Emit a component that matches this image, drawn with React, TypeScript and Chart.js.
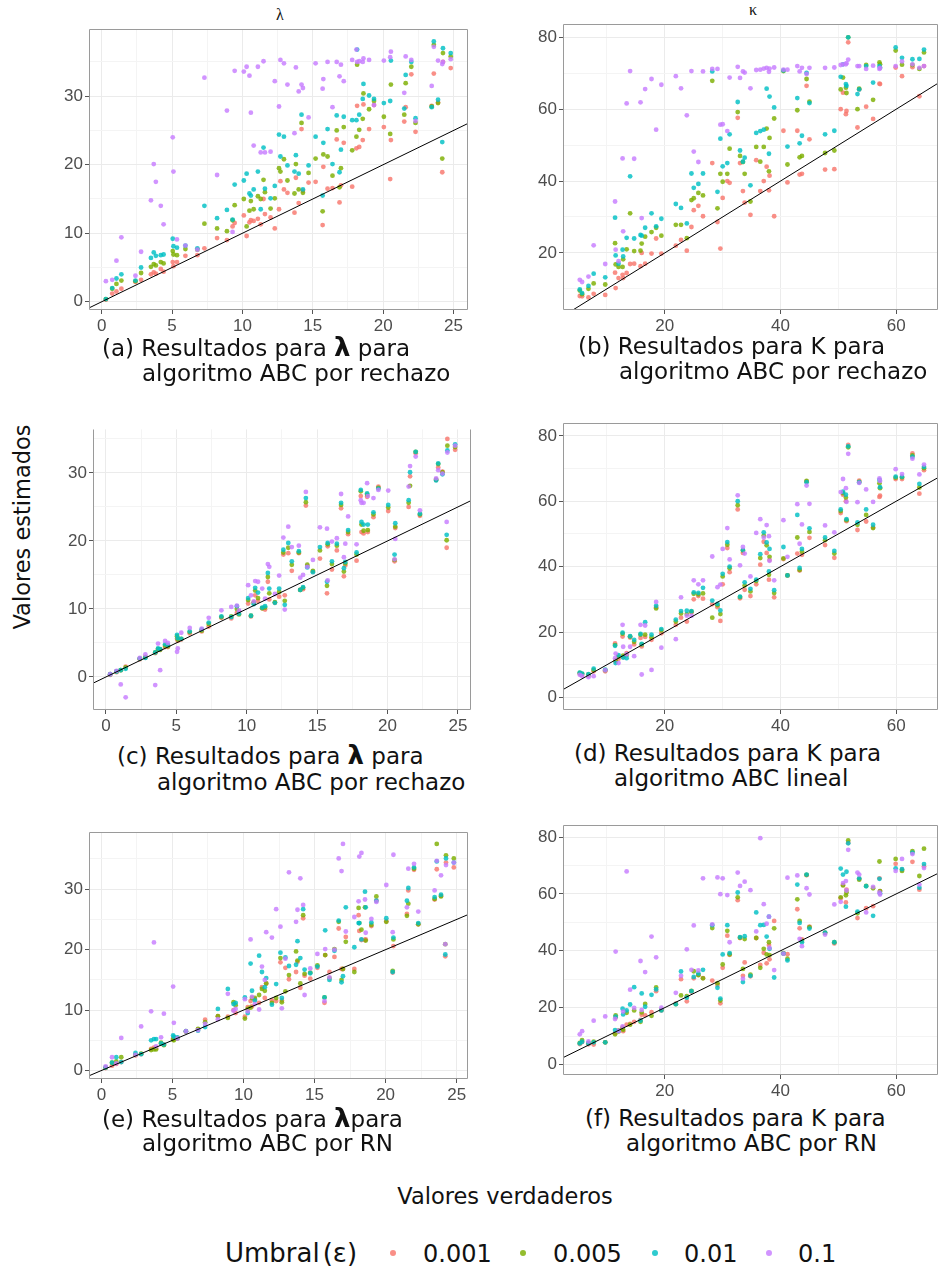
import React, { useEffect, useRef } from 'react';
import { Chart, registerables } from 'chart.js';

Chart.register(...registerables);

// ---------------- DATA ----------------
const SERIES = ['0.001', '0.005', '0.01', '0.1'];
const COLORS = ['#F8766D', '#7CAE00', '#00BFC4', '#C77CFF'];
const FILLS = ['rgba(248,118,109,0.82)', 'rgba(124,174,0,0.82)', 'rgba(0,191,196,0.82)', 'rgba(199,124,255,0.82)'];

const LAMBDA_X_TICKS = [0, 2.5, 5, 7.5, 10, 12.5, 15, 17.5, 20, 22.5, 25];
const LAMBDA_X_LABELS = [0, 5, 10, 15, 20, 25];
const LAMBDA_Y_TICKS = [0, 5, 10, 15, 20, 25, 30, 35];
const LAMBDA_Y_LABELS = [0, 10, 20, 30];
const KAPPA_X_TICKS = [10, 20, 30, 40, 50, 60];
const KAPPA_X_LABELS = [20, 40, 60];
const KAPPA_Y_TICKS = [0, 10, 20, 30, 40, 50, 60, 70, 80];
const KAPPA_Y_LABELS = [0, 20, 40, 60, 80];

// true lambda values
const X_LAMBDA = [0.3, 0.75, 1.05, 1.4, 2.4, 2.8, 3.5, 3.7, 3.85, 4.2, 4.4, 5.05, 5.1, 5.35, 5.95, 6.8, 7.3, 8.2, 8.9, 9.3, 9.45, 10.1, 10.3, 10.5, 10.6, 10.8, 11.1, 11.3, 11.5, 11.6, 12.0, 12.3, 12.6, 12.7, 12.95, 13.2, 13.7, 13.8, 14.0, 14.2, 14.3, 14.7, 15.2, 15.7, 15.75, 16.05, 16.4, 16.7, 16.9, 17.0, 17.2, 17.8, 18.1, 18.15, 18.3, 18.55, 18.6, 19.0, 19.35, 20.05, 20.5, 20.55, 21.5, 21.6, 22.0, 22.3, 23.45, 23.6, 23.9, 24.2, 24.25, 24.8];

// (a) lambda, rechazo
const A_001 = [0.3, 1.2, 1.5, 1.9, 2.9, 3.2, 4.0, 4.3, 4.1, 4.8, 4.4, 5.8, 5.2, 5.8, 6.7, 6.8, 7.8, 9.3, 9.0, 11.0, 11.5, 12.6, 9.6, 11.6, 11.9, 11.8, 12.1, 11.3, 15.0, 12.8, 12.3, 10.7, 13.5, 17.6, 16.4, 15.9, 13.0, 18.1, 14.4, 25.2, 16.2, 17.4, 17.5, 11.2, 19.7, 16.5, 16.6, 23.7, 14.5, 17.0, 23.2, 16.8, 22.4, 28.6, 22.6, 23.6, 28.8, 25.2, 28.7, 25.5, 17.9, 23.6, 26.3, 28.4, 33.2, 24.8, 28.6, 33.3, 29.1, 18.9, 35.0, 34.1];
const A_005 = [0.4, 1.9, 2.6, 3.1, 3.0, 4.2, 5.1, 5.5, 5.3, 5.8, 5.6, 7.4, 6.9, 6.8, 7.7, 7.6, 11.4, 10.7, 10.3, 11.9, 14.1, 15.0, 11.0, 13.3, 14.7, 13.5, 15.4, 15.0, 17.8, 16.0, 13.6, 15.1, 19.5, 19.0, 20.8, 17.7, 15.8, 20.1, 16.4, 26.1, 15.9, 18.8, 20.9, 13.2, 21.5, 21.2, 18.4, 25.0, 16.7, 19.5, 25.5, 22.1, 24.1, 34.6, 25.1, 26.7, 30.4, 28.1, 29.3, 27.0, 24.5, 31.7, 27.3, 31.9, 34.3, 26.1, 28.5, 37.5, 29.0, 20.9, 36.3, 35.8];
const A_01 = [0.4, 2.0, 3.4, 4.0, 3.1, 5.0, 6.4, 7.2, 6.7, 6.8, 6.9, 9.2, 8.1, 7.9, 8.2, 7.8, 14.0, 12.2, 13.4, 12.0, 17.1, 17.7, 18.7, 15.8, 15.5, 16.4, 19.0, 13.5, 22.5, 16.5, 15.1, 16.9, 24.4, 21.2, 24.1, 19.9, 19.0, 21.4, 18.7, 27.3, 16.4, 19.9, 24.1, 15.5, 23.2, 25.2, 20.1, 27.2, 18.9, 22.2, 27.0, 26.5, 26.5, 36.8, 27.3, 29.6, 31.8, 30.1, 29.6, 29.0, 29.3, 35.2, 28.2, 33.1, 35.0, 26.8, 28.4, 38.0, 29.5, 23.3, 37.0, 36.3];
const A_1 = [3.0, 3.2, 6.0, 9.4, 3.8, 7.3, 14.8, 20.1, 17.5, 14.0, 11.3, 24.0, 19.0, 9.1, 8.2, 7.6, 32.7, 18.5, 27.9, 10.2, 33.7, 33.6, 34.3, 33.0, 27.6, 22.8, 34.3, 21.8, 35.1, 21.8, 21.9, 32.2, 28.5, 35.3, 34.8, 31.7, 24.6, 34.2, 30.7, 31.7, 31.2, 26.9, 34.8, 31.1, 32.5, 35.0, 28.4, 35.0, 32.9, 34.6, 32.2, 35.3, 36.8, 35.0, 35.1, 35.0, 35.5, 35.3, 28.7, 35.2, 35.7, 36.5, 30.5, 35.8, 35.3, 26.4, 31.5, 37.2, 35.2, 34.7, 35.0, 35.4];

// (c) lambda, second method
const C_001 = [0.3, 0.7, 1.0, 1.5, 2.6, 2.9, 3.5, 4.0, 4.0, 4.4, 4.4, 5.6, 5.3, 5.5, 6.4, 6.7, 7.4, 8.7, 8.6, 9.4, 9.6, 10.8, 8.9, 11.0, 12.0, 11.2, 10.1, 9.9, 14.0, 11.4, 10.9, 11.8, 18.0, 12.0, 18.2, 15.6, 18.2, 12.8, 12.9, 25.2, 16.3, 15.5, 17.4, 12.3, 19.2, 15.8, 18.6, 24.8, 14.8, 16.4, 21.0, 17.1, 26.6, 21.3, 21.1, 26.5, 21.3, 23.5, 28.0, 24.4, 17.0, 21.9, 25.0, 29.5, 32.9, 23.7, 29.0, 30.8, 30.2, 19.0, 35.0, 33.4];
const C_005 = [0.4, 0.8, 1.0, 1.4, 2.7, 2.9, 3.6, 4.1, 4.0, 4.6, 4.5, 6.0, 5.5, 5.6, 6.6, 6.8, 7.8, 8.8, 8.9, 10.0, 9.2, 11.3, 9.0, 10.9, 12.7, 11.6, 10.1, 10.2, 14.7, 12.3, 11.0, 12.5, 18.3, 11.2, 19.0, 16.5, 18.3, 12.8, 13.1, 25.7, 16.5, 15.6, 18.6, 13.4, 19.5, 16.6, 19.3, 25.3, 15.5, 16.7, 21.3, 18.0, 27.3, 22.4, 21.5, 26.8, 21.6, 23.9, 27.8, 24.9, 17.2, 22.1, 25.6, 28.1, 33.1, 23.9, 29.0, 31.3, 30.1, 20.1, 34.0, 33.8];
const C_01 = [0.4, 0.8, 1.0, 1.2, 2.7, 2.8, 3.6, 4.2, 4.1, 4.8, 4.7, 6.2, 5.7, 5.6, 6.7, 7.0, 8.0, 8.9, 8.8, 10.4, 9.3, 11.6, 9.0, 10.7, 13.1, 12.4, 10.2, 10.4, 15.3, 13.0, 10.9, 13.0, 18.7, 10.6, 19.7, 17.0, 18.5, 12.8, 13.2, 26.3, 16.1, 15.4, 19.1, 14.0, 19.7, 17.0, 19.6, 25.6, 16.0, 16.9, 21.6, 18.3, 27.5, 22.8, 22.4, 27.0, 22.4, 24.2, 27.7, 25.3, 18.0, 22.6, 26.0, 30.1, 33.1, 24.0, 28.9, 31.4, 29.8, 20.9, 33.3, 34.2];
const C_1 = [0.4, 0.9, -1.1, -3.0, 2.8, 3.3, -1.2, 4.9, 1.0, 5.3, 5.0, 3.7, 4.2, 6.5, 7.2, 7.1, 8.7, 9.8, 10.3, 10.5, 9.8, 13.5, 12.0, 11.1, 14.1, 14.0, 13.0, 11.5, 16.6, 16.2, 12.2, 14.9, 20.5, 9.9, 22.1, 19.1, 19.3, 14.6, 15.0, 27.2, 16.2, 17.2, 22.0, 21.8, 14.2, 19.9, 20.4, 26.9, 17.6, 19.6, 23.6, 19.5, 26.0, 25.6, 25.6, 28.5, 26.6, 26.3, 27.5, 27.4, 17.3, 20.3, 28.0, 31.0, 32.4, 24.5, 29.2, 30.4, 29.9, 22.8, 33.0, 34.0];

// (e) lambda, RN
const E_001 = [0.4, 0.8, 1.1, 1.4, 2.5, 2.7, 3.6, 3.8, 3.7, 4.4, 4.3, 5.3, 5.4, 5.4, 6.4, 6.8, 8.4, 9.0, 8.9, 10.0, 9.5, 8.9, 10.5, 11.5, 10.6, 11.8, 11.2, 13.8, 12.0, 14.4, 11.6, 11.5, 17.9, 11.6, 17.0, 15.1, 16.3, 18.0, 13.7, 25.2, 15.7, 15.2, 17.0, 11.2, 19.1, 16.3, 18.8, 23.5, 16.8, 16.8, 22.1, 16.8, 25.7, 23.1, 21.6, 21.6, 21.7, 23.9, 28.1, 24.7, 16.2, 20.6, 25.9, 29.8, 33.2, 24.2, 28.3, 33.3, 28.9, 18.9, 34.4, 33.6];
const E_005 = [0.5, 1.3, 1.5, 2.2, 2.6, 2.8, 3.4, 3.5, 3.5, 4.6, 4.2, 5.1, 5.0, 5.3, 6.5, 6.9, 8.0, 9.0, 8.7, 11.3, 10.8, 8.6, 10.2, 10.4, 12.0, 12.0, 12.5, 13.5, 13.2, 14.4, 11.2, 12.0, 18.6, 11.3, 13.1, 15.8, 19.7, 18.2, 14.4, 25.7, 16.0, 16.2, 17.4, 12.1, 19.1, 15.3, 20.1, 24.6, 15.0, 16.8, 21.3, 16.3, 26.9, 24.4, 23.3, 27.0, 21.5, 24.1, 28.8, 24.6, 16.5, 21.7, 25.6, 27.6, 33.4, 24.2, 28.4, 37.5, 28.8, 20.9, 35.6, 35.1];
const E_01 = [0.5, 1.3, 2.2, 1.4, 2.9, 2.7, 5.0, 5.2, 5.2, 4.5, 4.3, 5.8, 5.6, 5.5, 6.5, 6.6, 7.2, 10.2, 13.5, 11.0, 11.2, 12.1, 9.5, 17.7, 13.2, 11.6, 19.0, 16.3, 13.8, 15.3, 10.9, 14.3, 19.5, 12.0, 18.7, 17.3, 17.5, 21.4, 18.6, 26.7, 16.7, 16.1, 17.2, 12.1, 23.2, 15.0, 19.8, 24.8, 14.6, 15.6, 27.0, 20.4, 24.4, 24.4, 21.7, 29.6, 27.0, 24.5, 28.1, 25.2, 16.3, 22.0, 28.1, 30.2, 33.6, 24.4, 28.7, 34.6, 29.1, 19.2, 35.1, 34.4];
const E_1 = [0.7, 2.2, 1.2, 5.4, 2.6, 7.3, 9.8, 21.2, 4.0, 5.5, 9.4, 13.9, 7.9, 5.3, 6.5, 6.7, 7.7, 8.5, 12.7, 9.9, 10.2, 11.8, 9.8, 21.7, 12.2, 11.0, 10.1, 17.2, 15.0, 22.9, 22.0, 26.7, 23.8, 10.3, 18.5, 32.8, 24.6, 26.6, 31.8, 27.4, 12.5, 16.9, 19.3, 11.5, 20.1, 15.4, 20.0, 35.1, 33.0, 37.5, 23.0, 25.4, 28.0, 35.4, 36.0, 28.3, 22.8, 25.1, 27.9, 30.7, 22.9, 35.7, 27.0, 33.4, 34.2, 26.3, 29.8, 34.7, 32.3, 20.9, 34.0, 34.4];

// true kappa values
const X_KAPPA = [5.3, 5.7, 6.8, 7.7, 9.7, 11.4, 11.5, 12.0, 12.7, 12.8, 13.4, 14.0, 14.7, 15.8, 16.0, 16.6, 17.7, 18.5, 19.4, 21.9, 22.8, 23.8, 24.6, 25.0, 25.8, 26.6, 28.2, 29.1, 29.6, 30.0, 30.8, 31.2, 32.6, 33.0, 33.5, 33.8, 34.8, 35.8, 36.5, 37.1, 37.6, 38.0, 38.1, 38.9, 40.5, 41.2, 42.9, 43.3, 43.7, 44.5, 45.0, 47.7, 49.3, 50.4, 50.8, 51.3, 51.4, 51.7, 53.3, 53.6, 54.8, 56.0, 57.1, 57.2, 59.9, 61.0, 62.8, 64.0, 64.8];

// (b) kappa, rechazo
const B_001 = [8.0, 7.9, 7.6, 8.6, 8.3, 14.5, 10.2, 13.0, 13.9, 13.0, 14.4, 16.9, 17.0, 16.3, 20.0, 17.0, 19.8, 24.0, 19.8, 22.0, 23.6, 20.6, 27.2, 31.9, 33.1, 30.2, 45.0, 28.6, 21.2, 35.3, 40.0, 39.5, 57.6, 45.0, 37.2, 34.0, 30.6, 45.8, 37.2, 40.0, 44.0, 37.4, 41.5, 30.2, 54.0, 39.6, 54.0, 41.8, 42.0, 66.5, 51.6, 43.2, 43.3, 60.0, 64.6, 58.6, 59.5, 78.6, 54.9, 65.5, 60.7, 57.3, 67.1, 67.0, 71.6, 69.2, 71.7, 63.6, 72.0];
const B_005 = [9.5, 8.5, 10.0, 11.5, 11.2, 22.7, 16.8, 16.1, 16.1, 18.2, 21.0, 31.0, 20.5, 20.6, 22.6, 24.5, 25.8, 27.0, 24.8, 27.8, 27.8, 24.1, 34.7, 35.2, 36.7, 36.0, 67.9, 32.4, 42.0, 39.8, 42.0, 49.0, 59.2, 47.0, 45.3, 42.0, 34.3, 49.5, 45.4, 49.5, 54.6, 42.7, 52.0, 57.4, 70.6, 44.6, 59.7, 46.6, 47.0, 68.4, 62.1, 47.8, 48.5, 65.5, 68.8, 66.0, 64.5, 80.0, 60.0, 65.7, 72.3, 62.6, 73.0, 72.5, 76.3, 72.4, 72.3, 71.2, 75.8];
const B_01 = [9.8, 8.8, 10.8, 14.2, 13.2, 29.8, 19.3, 17.0, 20.9, 19.0, 24.2, 41.3, 24.0, 25.0, 24.8, 27.0, 31.0, 27.4, 29.5, 33.6, 32.5, 28.2, 42.1, 38.1, 39.2, 42.1, 70.5, 37.0, 51.8, 44.1, 45.0, 53.0, 62.0, 48.5, 45.4, 46.5, 38.8, 53.4, 53.9, 54.3, 65.7, 47.6, 63.5, 60.5, 70.8, 49.6, 63.1, 50.5, 52.6, 70.1, 61.7, 53.0, 54.0, 69.0, 72.5, 67.0, 66.5, 80.0, 64.2, 65.5, 72.0, 67.4, 72.0, 71.5, 77.2, 74.3, 73.9, 74.0, 76.6];
const B_1 = [12.5, 11.9, 13.4, 22.1, 16.9, 34.3, 20.9, 17.7, 46.3, 26.0, 61.6, 70.6, 46.2, 61.9, 29.7, 65.6, 68.4, 54.3, 66.8, 69.2, 65.8, 58.3, 70.6, 48.2, 45.3, 70.5, 71.2, 71.2, 55.7, 55.8, 53.9, 68.8, 71.8, 68.7, 70.5, 70.2, 65.8, 70.9, 71.0, 71.3, 71.5, 70.4, 71.3, 71.6, 71.0, 71.0, 72.0, 70.5, 71.5, 69.8, 71.5, 71.5, 71.6, 72.3, 72.5, 72.5, 72.8, 73.8, 72.0, 72.0, 71.2, 72.1, 71.2, 71.5, 72.0, 73.3, 72.5, 71.5, 72.0];

// (d) kappa, lineal
const D_001 = [7.2, 6.9, 6.6, 8.0, 8.0, 16.5, 11.0, 11.8, 18.6, 12.3, 13.5, 18.3, 16.2, 18.2, 15.6, 18.5, 17.6, 27.6, 19.6, 22.2, 24.4, 23.2, 26.0, 30.0, 31.0, 30.2, 28.5, 27.6, 23.4, 34.6, 45.7, 38.3, 57.5, 30.3, 44.2, 32.9, 31.0, 34.6, 40.6, 47.6, 44.2, 36.0, 42.0, 30.6, 42.3, 37.3, 44.0, 38.8, 43.6, 66.0, 48.8, 46.6, 42.7, 56.4, 62.0, 60.0, 53.9, 77.2, 51.2, 66.3, 53.8, 52.0, 61.3, 61.7, 66.8, 66.8, 74.6, 62.3, 69.5];
const D_005 = [7.5, 7.2, 7.0, 8.4, 8.3, 16.0, 11.4, 12.5, 19.5, 12.8, 13.0, 18.6, 17.0, 19.2, 16.2, 19.2, 18.4, 27.2, 20.5, 23.2, 25.7, 25.5, 26.2, 31.7, 31.5, 31.8, 24.4, 28.2, 25.5, 37.0, 46.7, 39.5, 58.8, 30.7, 44.9, 34.2, 32.4, 35.6, 42.6, 49.5, 46.5, 37.5, 43.0, 31.9, 42.5, 37.3, 48.9, 39.0, 44.6, 66.2, 50.6, 48.1, 44.0, 57.0, 62.5, 61.1, 54.2, 76.5, 52.8, 65.9, 55.8, 51.8, 65.5, 64.0, 67.2, 67.3, 74.0, 64.2, 70.1];
const D_01 = [7.6, 7.3, 7.1, 8.8, 8.5, 15.8, 10.5, 12.9, 19.8, 12.2, 12.0, 18.7, 17.6, 19.4, 16.4, 23.0, 19.2, 28.0, 20.9, 23.8, 26.4, 26.5, 26.4, 32.1, 32.0, 33.5, 29.6, 28.6, 26.6, 37.8, 47.5, 40.0, 60.0, 30.8, 45.1, 35.2, 33.2, 36.0, 43.8, 50.5, 47.4, 38.5, 45.4, 32.8, 46.0, 37.3, 55.8, 39.6, 45.4, 65.8, 51.7, 48.9, 44.8, 57.5, 62.9, 62.0, 54.5, 76.8, 53.5, 65.8, 57.5, 52.8, 66.5, 64.3, 67.5, 67.5, 73.6, 65.3, 70.5];
const D_1 = [6.9, 6.5, 6.2, 6.5, 8.3, 12.0, 13.4, 10.5, 22.2, 15.5, 13.2, 15.5, 12.6, 22.2, 7.0, 22.0, 8.4, 29.2, 15.2, 17.8, 30.6, 25.0, 25.0, 35.8, 34.6, 35.8, 43.1, 33.7, 34.5, 45.4, 51.8, 42.2, 61.8, 40.4, 46.0, 44.0, 37.0, 50.3, 54.5, 48.9, 52.7, 49.3, 41.8, 35.8, 54.2, 43.0, 59.1, 47.0, 52.9, 64.8, 59.2, 52.6, 50.5, 62.8, 66.8, 64.0, 59.8, 74.5, 59.7, 65.6, 63.6, 59.8, 67.0, 66.2, 69.8, 68.3, 73.0, 68.2, 71.2];

// (f) kappa, RN
const F_001 = [7.2, 7.9, 7.1, 7.0, 7.8, 11.0, 16.5, 12.0, 13.0, 11.7, 14.0, 14.3, 15.0, 15.7, 17.5, 17.3, 18.4, 25.8, 19.0, 21.4, 30.0, 22.2, 25.6, 30.3, 31.5, 30.4, 29.5, 28.0, 21.5, 34.0, 45.3, 38.6, 57.8, 44.5, 31.2, 35.9, 31.0, 44.5, 35.0, 39.3, 35.6, 42.0, 37.0, 50.5, 39.0, 38.8, 54.6, 47.9, 44.0, 66.6, 48.5, 46.3, 42.6, 58.5, 63.2, 57.0, 61.5, 78.0, 51.5, 65.3, 55.0, 55.7, 65.5, 61.0, 70.6, 68.5, 71.3, 61.5, 69.7];
const F_005 = [7.6, 8.6, 7.6, 8.0, 7.8, 10.6, 17.3, 11.6, 12.6, 12.2, 18.2, 14.0, 19.0, 15.0, 18.3, 21.3, 17.1, 27.1, 19.2, 21.2, 24.3, 24.0, 25.9, 32.8, 31.4, 30.3, 48.0, 28.6, 22.5, 35.2, 47.0, 38.7, 58.8, 44.6, 33.6, 44.1, 31.6, 44.5, 34.0, 40.7, 38.7, 43.0, 38.5, 47.9, 39.2, 37.2, 58.1, 50.5, 43.5, 66.7, 48.3, 46.3, 43.0, 58.8, 63.0, 59.5, 60.5, 78.8, 53.2, 65.0, 62.8, 62.0, 71.4, 61.0, 72.3, 68.1, 75.0, 66.3, 75.9];
const F_01 = [7.4, 8.0, 7.4, 7.8, 7.8, 12.1, 16.8, 11.8, 19.6, 17.6, 19.0, 21.1, 27.2, 15.4, 25.0, 20.3, 24.5, 26.4, 19.0, 21.2, 32.7, 23.5, 25.8, 30.8, 32.0, 33.3, 49.0, 27.0, 23.2, 38.7, 49.0, 39.2, 60.5, 44.8, 29.0, 45.1, 31.2, 53.5, 49.0, 49.1, 45.0, 52.0, 40.7, 30.6, 39.0, 36.6, 63.3, 49.8, 43.0, 66.8, 47.8, 46.4, 43.0, 68.9, 66.8, 55.5, 67.8, 77.8, 53.8, 65.5, 62.7, 52.3, 65.3, 60.2, 69.0, 68.7, 74.5, 62.2, 70.5];
const F_1 = [10.6, 11.7, 8.1, 15.4, 16.9, 16.0, 39.7, 11.7, 13.4, 18.6, 67.9, 26.3, 19.9, 36.4, 19.2, 32.5, 45.0, 37.7, 20.0, 25.2, 31.2, 40.5, 33.3, 48.9, 33.1, 65.5, 49.3, 65.8, 59.9, 65.5, 59.6, 43.0, 67.5, 62.8, 30.2, 64.3, 61.3, 46.8, 79.6, 56.4, 49.5, 52.0, 41.0, 33.2, 39.0, 65.7, 66.5, 44.2, 41.6, 62.0, 59.8, 45.7, 56.3, 57.2, 63.8, 64.5, 61.2, 75.5, 67.5, 66.8, 53.5, 62.5, 60.5, 59.8, 68.1, 72.3, 74.0, 63.3, 69.1];

// ---------------- LAYOUT ----------------
const AXW = 44; // y-axis band width
const AXH = 26; // x-axis band height

const PANELS = [
  { id: 'a', rect: [89, 27, 470, 310], xr: [-0.9, 26.0], yr: [-1.2, 39.75], kind: 'lambda', ys: [A_001, A_005, A_01, A_1], openTop: false },
  { id: 'b', rect: [563, 22, 940, 310], xr: [2.4, 67.15], yr: [4.1, 83.6], kind: 'kappa', ys: [B_001, B_005, B_01, B_1], openTop: false },
  { id: 'c', rect: [93, 427, 473, 710], xr: [-0.92, 25.9], yr: [-4.86, 36.4], kind: 'lambda', ys: [C_001, C_005, C_01, C_1], openTop: true },
  { id: 'd', rect: [563, 421, 940, 710], xr: [2.4, 67.15], yr: [-3.85, 83.8], kind: 'kappa', ys: [D_001, D_005, D_01, D_1], openTop: false },
  { id: 'e', rect: [89, 830, 470, 1079], xr: [-0.87, 25.77], yr: [-1.4, 39.4], kind: 'lambda', ys: [E_001, E_005, E_01, E_1], openTop: false },
  { id: 'f', rect: [563, 823, 940, 1075], xr: [2.4, 67.15], yr: [-3.7, 84.1], kind: 'kappa', ys: [F_001, F_005, F_01, F_1], openTop: false },
];

const CAPTIONS = [
  { l1: ['(a) Resultados para ', 'λ', ' para'], l2: 'algoritmo ABC por rechazo', x1: 102, x2: 142, b1: 355, b2: 381 },
  { l1: ['(b) Resultados para K para'], l2: 'algoritmo ABC por rechazo', x1: 578, x2: 619, b1: 354, b2: 379 },
  { l1: ['(c) Resultados para ', 'λ', ' para'], l2: 'algoritmo ABC por rechazo', x1: 117, x2: 157, b1: 763, b2: 790 },
  { l1: ['(d) Resultados para K para'], l2: 'algoritmo ABC lineal', x1: 574, x2: 614, b1: 761, b2: 786 },
  { l1: ['(e) Resultados para ', 'λ', 'para'], l2: 'algoritmo ABC por RN', x1: 102, x2: 142, b1: 1126, b2: 1151 },
  { l1: ['(f) Resultados para K para'], l2: 'algoritmo ABC por RN', x1: 585, x2: 626, b1: 1126, b2: 1151 },
];

const SANS = '"DejaVu Sans", Verdana, sans-serif';
const TICK_FONT = { family: '"Liberation Sans", Arial, Helvetica, sans-serif', size: 17 };

const panelBorder = {
  id: 'panelBorder',
  afterDatasetsDraw(chart: any, _args: any, opts: any) {
    const { ctx, chartArea: a } = chart;
    const l = Math.round(a.left) + 0.5;
    const r = Math.round(a.right) - 0.5;
    const t = Math.round(a.top) + 0.5;
    const b = Math.round(a.bottom) - 0.5;
    ctx.save();
    ctx.strokeStyle = '#9a9a9a';
    ctx.lineWidth = 1;
    ctx.beginPath();
    if (opts && opts.openTop) {
      ctx.moveTo(l, t);
      ctx.lineTo(l, b);
      ctx.lineTo(r, b);
      ctx.lineTo(r, t);
    } else {
      ctx.rect(l, t, r - l, b - t);
    }
    ctx.stroke();
    ctx.restore();
  },
};

function axis(min: number, max: number, ticks: number[], labels: number[], isX: boolean) {
  const isMajor = (v: number) => labels.indexOf(v) >= 0;
  return {
    type: 'linear',
    min,
    max,
    afterBuildTicks: (s: any) => {
      s.ticks = ticks.filter((v) => v >= min && v <= max).map((v) => ({ value: v }));
    },
    afterFit: (s: any) => {
      if (isX) s.height = AXH;
      else s.width = AXW;
      s.paddingLeft = 0;
      s.paddingRight = 0;
      s.paddingTop = 0;
      s.paddingBottom = 0;
    },
    ticks: {
      autoSkip: false,
      maxRotation: 0,
      minRotation: 0,
      padding: 2,
      color: '#4d4d4d',
      font: TICK_FONT,
      callback: (v: any) => (isMajor(Number(v)) ? String(v) : ''),
    },
    grid: {
      color: (c: any) => (c.tick && isMajor(c.tick.value) ? '#ebebeb' : '#f4f4f4'),
      lineWidth: 1,
      drawTicks: true,
      tickLength: 4,
      tickColor: (c: any) => (c.tick && isMajor(c.tick.value) ? '#555555' : 'rgba(0,0,0,0)'),
    },
    border: { display: false },
  };
}

function buildConfig(p: any) {
  const isL = p.kind === 'lambda';
  const xs = isL ? X_LAMBDA : X_KAPPA;
  const datasets: any[] = SERIES.map((name, i) => ({
    label: name,
    data: xs.map((x, j) => ({ x, y: p.ys[i][j] })),
    backgroundColor: FILLS[i],
    borderColor: FILLS[i],
    pointRadius: 2.4,
    pointBorderWidth: 0,
    pointHoverRadius: 2.4,
    order: 4 - i,
  }));
  const lo = Math.min(p.xr[0], p.yr[0]);
  const hi = Math.max(p.xr[1], p.yr[1]);
  datasets.push({
    label: 'identidad',
    data: [{ x: lo, y: lo }, { x: hi, y: hi }],
    showLine: true,
    borderColor: '#000000',
    borderWidth: 1,
    pointRadius: 0,
    order: 0,
  });
  return {
    type: 'scatter',
    data: { datasets },
    options: {
      responsive: false,
      animation: false,
      events: [],
      layout: { padding: 0 },
      plugins: { legend: { display: false }, tooltip: { enabled: false }, panelBorder: { openTop: p.openTop } },
      scales: {
        x: axis(p.xr[0], p.xr[1], isL ? LAMBDA_X_TICKS : KAPPA_X_TICKS, isL ? LAMBDA_X_LABELS : KAPPA_X_LABELS, true),
        y: axis(p.yr[0], p.yr[1], isL ? LAMBDA_Y_TICKS : KAPPA_Y_TICKS, isL ? LAMBDA_Y_LABELS : KAPPA_Y_LABELS, false),
      },
    },
    plugins: [panelBorder],
  };
}

function Panel({ p }: { p: any }) {
  const ref = useRef<HTMLCanvasElement | null>(null);
  const [L, T, R, B] = p.rect;
  const w = R - L + AXW;
  const h = B - T + AXH;
  useEffect(() => {
    if (!ref.current) return;
    const chart = new Chart(ref.current, buildConfig(p) as any);
    return () => chart.destroy();
  }, []);
  return (
    <canvas
      ref={ref}
      width={w}
      height={h}
      style={{ position: 'absolute', left: L - AXW, top: T, width: w, height: h, display: 'block' }}
    />
  );
}

function Caption({ c }: { c: any }) {
  const fs = 23;
  const off = 19.5; // baseline offset for line-height = font-size
  const common: any = { position: 'absolute', fontFamily: SANS, fontSize: fs, lineHeight: fs + 'px', color: '#111', whiteSpace: 'nowrap' };
  return (
    <>
      <div style={{ ...common, left: c.x1, top: c.b1 - off }}>
        {c.l1.map((s: string, i: number) =>
          s === 'λ' ? (
            <span key={i} style={{ fontWeight: 'bold', fontSize: 26 }}>{s}</span>
          ) : (
            <span key={i}>{s}</span>
          )
        )}
      </div>
      <div style={{ ...common, left: c.x2, top: c.b2 - off }}>{c.l2}</div>
    </>
  );
}

const LEGEND_ITEMS = [
  { dot: 393, text: 423 },
  { dot: 523, text: 553 },
  { dot: 655, text: 684 },
  { dot: 769, text: 798 },
];

export default function App() {
  return (
    <div style={{ position: 'absolute', left: 0, top: 0, width: 940, height: 1271, background: '#ffffff', overflow: 'hidden' }}>
      {PANELS.map((p) => (
        <Panel key={p.id} p={p} />
      ))}
      <div style={{ position: 'absolute', left: 230, top: 7, width: 100, textAlign: 'center', fontFamily: '"Liberation Serif", "DejaVu Serif", serif', fontSize: 16, lineHeight: '16px', color: '#111' }}>λ</div>
      <div style={{ position: 'absolute', left: 703, top: 2, width: 100, textAlign: 'center', fontFamily: '"Liberation Serif", "DejaVu Serif", serif', fontSize: 16, lineHeight: '16px', color: '#111' }}>κ</div>
      {CAPTIONS.map((c, i) => (
        <Caption key={i} c={c} />
      ))}
      <div
        style={{
          position: 'absolute', left: 22 - 120, top: 527 - 13, width: 240, height: 26, lineHeight: '26px', textAlign: 'center',
          fontFamily: SANS, fontSize: 22.5, color: '#111', transform: 'rotate(-90deg)', whiteSpace: 'nowrap',
        }}
      >
        Valores estimados
      </div>
      <div style={{ position: 'absolute', left: 305, top: 1185, width: 400, textAlign: 'center', fontFamily: SANS, fontSize: 22.5, lineHeight: '22.5px', color: '#111' }}>
        Valores verdaderos
      </div>
      <div style={{ position: 'absolute', left: 225, top: 1240, fontFamily: SANS, fontSize: 26, lineHeight: '26px', color: '#111', whiteSpace: 'nowrap' }}>
        Umbral<span style={{ marginLeft: 3 }}>(ε)</span>
      </div>
      {LEGEND_ITEMS.map((it, i) => (
        <React.Fragment key={i}>
          <div style={{ position: 'absolute', left: it.dot - 3, top: 1253 - 3, width: 6, height: 6, borderRadius: 3, background: FILLS[i] }} />
          <div style={{ position: 'absolute', left: it.text, top: 1242, fontFamily: SANS, fontSize: 24, lineHeight: '24px', color: '#111', whiteSpace: 'nowrap' }}>
            {SERIES[i]}
          </div>
        </React.Fragment>
      ))}
    </div>
  );
}
